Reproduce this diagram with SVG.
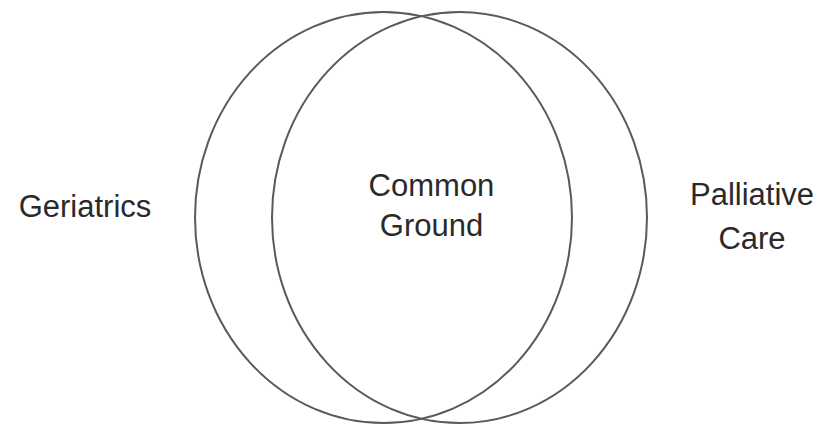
<svg xmlns="http://www.w3.org/2000/svg" width="818" height="428" viewBox="0 0 818 428">
<style>
.c{fill:none;stroke:#5a5a5a;stroke-width:2}
.t{font-family:"Liberation Sans",Arial,sans-serif;font-size:31px;fill:#2a2a2a}
</style>
<rect width="818" height="428" fill="#fff"/>
<g id="connectors"></g>
<g id="left-circle"><ellipse class="c" cx="383.5" cy="217.5" rx="188.5" ry="205.5"/></g>
<g id="right-circle"><ellipse class="c" cx="459.5" cy="217.5" rx="187.5" ry="205.5"/></g>
<g id="geriatrics"><text class="t" x="85" y="217" text-anchor="middle">Geriatrics</text></g>
<g id="common-ground"><text class="t" x="431.5" y="196" text-anchor="middle">Common</text><text class="t" x="431.5" y="236" text-anchor="middle">Ground</text></g>
<g id="palliative-care"><text class="t" x="752" y="205" text-anchor="middle">Palliative</text><text class="t" x="752" y="249" text-anchor="middle">Care</text></g>
</svg>
